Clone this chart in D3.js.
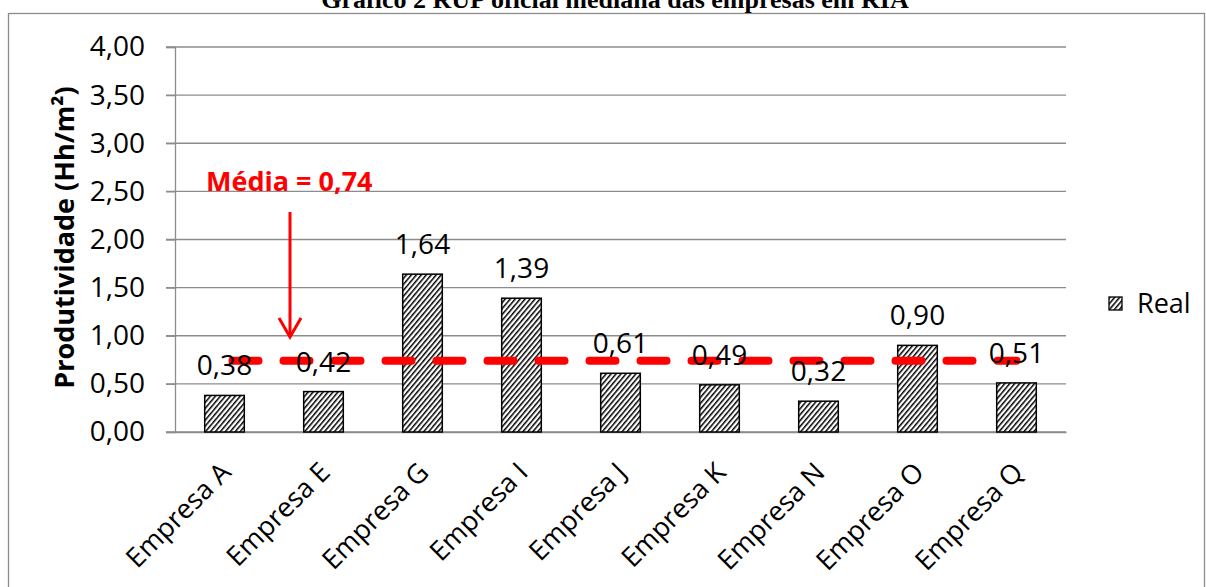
<!DOCTYPE html>
<html>
<head>
<meta charset="utf-8">
<script src="https://cdn.jsdelivr.net/npm/d3@7"></script>
<style>
  body { margin: 0; background: #fff; }
  svg { display: block; }
</style>
</head>
<body>
<div id="chart"></div>
<script>
const categories = ["Empresa A", "Empresa E", "Empresa G", "Empresa I", "Empresa J", "Empresa K", "Empresa N", "Empresa O", "Empresa Q"];
const realValues = [0.38, 0.42, 1.64, 1.39, 0.61, 0.49, 0.32, 0.90, 0.51];
const mediaValue = 0.74;
const yTicks = [0, 0.5, 1, 1.5, 2, 2.5, 3, 3.5, 4];

const svgWidth = 1206;
const svgHeight = 587;
const margin = {top: 47, right: 140, bottom: 155, left: 175};
const width = 1066 - margin.left;
const height = 432 - margin.top;

const fmt = v => d3.format(".2f")(v).replace(".", ",");
const font = "'Open Sans', 'Noto Sans', sans-serif";

const root = d3.select("#chart")
    .append("svg")
    .attr("width", svgWidth)
    .attr("height", svgHeight);

// hatch pattern
root.append("defs").append("pattern")
    .attr("id", "hatch")
    .attr("patternUnits", "userSpaceOnUse")
    .attr("width", 3.8)
    .attr("height", 10)
    .attr("patternTransform", "rotate(40)")
    .call(p => {
        p.append("rect").attr("width", 3.8).attr("height", 10).attr("fill", "#fff");
        p.append("rect").attr("width", 1.5).attr("height", 10).attr("fill", "#000");
    });

// outer frame
root.append("rect")
    .attr("x", 8.5).attr("y", 13.5)
    .attr("width", 1196).attr("height", 600)
    .attr("fill", "none")
    .attr("stroke", "#8c8c8c")
    .attr("stroke-width", 1.3);

// title (cut off by the top edge, as in the source)
root.append("text")
    .attr("x", 615).attr("y", 8)
    .attr("text-anchor", "middle")
    .style("font-family", "'Liberation Serif', 'Times New Roman', serif")
    .style("font-weight", "bold")
    .style("font-size", "26px")
    .text("Gráfico 2 RUP oficial mediana das empresas em RIA");

const svg = root.append("g")
    .attr("transform", "translate(" + margin.left + "," + margin.top + ")");

const x = d3.scaleBand()
    .domain(categories)
    .range([0, width])
    .paddingInner(0.6)
    .paddingOuter(0.3);

const y = d3.scaleLinear()
    .domain([0, 4])
    .range([height, 0]);

// gridlines
svg.append("g")
    .selectAll("line")
    .data(yTicks)
    .enter().append("line")
    .attr("x1", -9).attr("x2", width)
    .attr("y1", d => y(d)).attr("y2", d => y(d))
    .attr("stroke", "#8c8c8c")
    .attr("stroke-width", 1.3);

// y axis
const yAxis = svg.append("g")
    .call(d3.axisLeft(y).tickValues(yTicks).tickFormat(fmt).tickSize(9).tickPadding(21));
yAxis.select(".domain").attr("stroke", "#8c8c8c").attr("stroke-width", 1.3);
yAxis.selectAll(".tick line").attr("stroke", "#8c8c8c").attr("stroke-width", 1.3);
yAxis.selectAll("text")
    .style("font-family", font)
    .style("font-size", "28px")
    .attr("fill", "#000");

// x axis
const xAxis = svg.append("g")
    .attr("transform", "translate(0," + height + ")")
    .call(d3.axisBottom(x).tickSize(0).tickPadding(0));
xAxis.select(".domain").attr("stroke", "#8c8c8c").attr("stroke-width", 1.3);
xAxis.selectAll("text")
    .style("font-family", font)
    .style("font-size", "27px")
    .attr("fill", "#000")
    .attr("text-anchor", "end")
    .attr("dy", null)
    .attr("y", 0)
    .attr("transform", "translate(8,42) rotate(-45)");

// bars
svg.selectAll(".bar")
    .data(realValues)
    .enter().append("rect")
    .attr("class", "bar")
    .attr("x", (d, i) => x(categories[i]))
    .attr("y", d => y(d))
    .attr("width", x.bandwidth())
    .attr("height", d => height - y(d))
    .attr("fill", "url(#hatch)")
    .attr("stroke", "#000")
    .attr("stroke-width", 1.5);

// mean line
svg.append("line")
    .attr("x1", x(categories[0]) + x.bandwidth() / 2 + 8)
    .attr("x2", x(categories[categories.length - 1]) + x.bandwidth() / 2)
    .attr("y1", y(mediaValue)).attr("y2", y(mediaValue))
    .attr("stroke", "#ff0000")
    .attr("stroke-width", 8)
    .attr("stroke-linecap", "round")
    .attr("stroke-dasharray", "26,25");

// value labels
svg.selectAll(".label")
    .data(realValues)
    .enter().append("text")
    .attr("class", "label")
    .attr("x", (d, i) => x(categories[i]) + x.bandwidth() / 2)
    .attr("y", d => y(d) - 20)
    .attr("text-anchor", "middle")
    .style("font-family", font)
    .style("font-size", "28px")
    .text(fmt);

// y axis title
svg.append("text")
    .attr("transform", "translate(-101," + (height / 2 - 2) + ") rotate(-90)")
    .attr("text-anchor", "middle")
    .style("font-family", font)
    .style("font-weight", "bold")
    .style("font-size", "27px")
    .text("Produtividade (Hh/m²)");

// annotation
svg.append("text")
    .attr("x", 31).attr("y", 191 - margin.top)
    .style("font-family", font)
    .style("font-weight", "bold")
    .style("font-size", "27px")
    .attr("fill", "#ff0000")
    .text("Média = 0,74");

const ax = 290 - margin.left;
svg.append("line")
    .attr("x1", ax).attr("x2", ax)
    .attr("y1", 212 - margin.top).attr("y2", 335 - margin.top)
    .attr("stroke", "#ff0000").attr("stroke-width", 3);
svg.append("path")
    .attr("d", "M" + (ax - 11) + "," + (318 - margin.top) + " L" + ax + "," + (337 - margin.top) + " L" + (ax + 11) + "," + (318 - margin.top))
    .attr("fill", "none")
    .attr("stroke", "#ff0000").attr("stroke-width", 3);

// legend
const legend = root.append("g").attr("transform", "translate(1109,297)");
legend.append("rect")
    .attr("width", 13).attr("height", 13)
    .attr("fill", "url(#hatch)")
    .attr("stroke", "#000").attr("stroke-width", 1.3);
legend.append("text")
    .attr("x", 28).attr("y", 16)
    .style("font-family", font)
    .style("font-size", "27px")
    .text("Real");
</script>
</body>
</html>
